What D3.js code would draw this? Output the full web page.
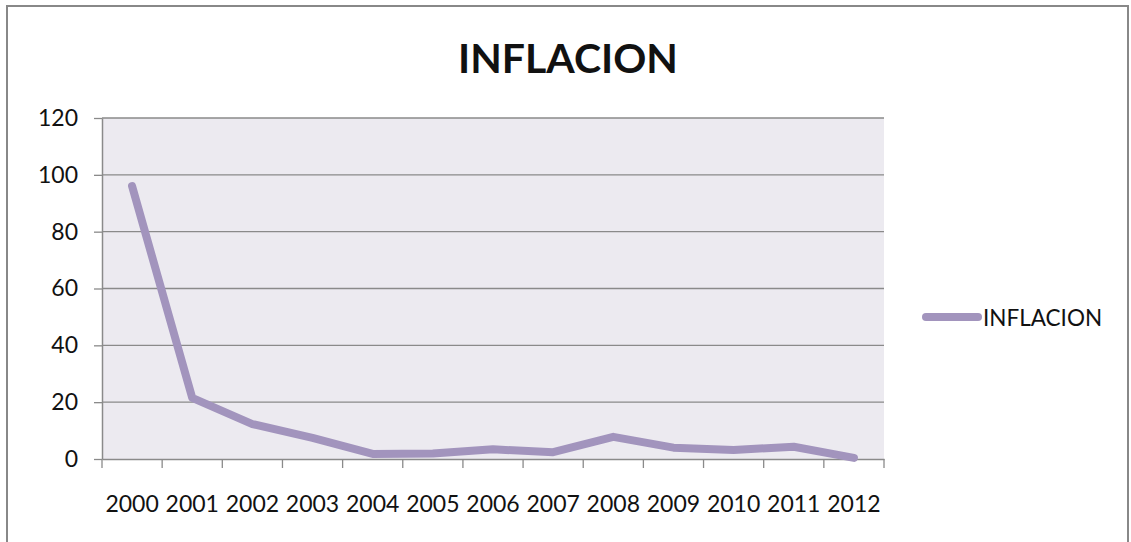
<!DOCTYPE html>
<html>
  <head>
  <title>INFLACION</title>
  <script src="https://d3js.org/d3.v7.min.js"></script>
  </head>
  <body>
    <svg id="svg" width="1131" height="542"></svg>
  </body>
</html>

<script>
  const years = ['2000','2001','2002','2003','2004','2005','2006','2007','2008','2009','2010','2011','2012'];
  const inflacion = [96, 21.5, 12.3, 7.4, 1.8, 1.9, 3.4, 2.4, 7.8, 4.0, 3.2, 4.3, 0.4];
  const yTicks = [0, 20, 40, 60, 80, 100, 120];
  const seriesName = 'INFLACION';
  const title = 'INFLACION';

  const lineColor = '#a294bd';
  const gridColor = '#8a8a8a';
  const font = 'Lato, "Open Sans", sans-serif';

  const svg = d3.select('#svg');
  const plot = {left: 102, right: 884, top: 118, bottom: 459};

  const x = d3.scaleBand().domain(years).range([plot.left, plot.right]);
  const y = d3.scaleLinear().domain([0, 120]).range([plot.bottom, plot.top]);

  svg.append('rect')
    .attr('width', 1131).attr('height', 542)
    .style('fill', '#fff');

  // outer frame
  svg.append('rect')
    .attr('x', 7).attr('y', 6)
    .attr('width', 1121).attr('height', 560)
    .style('fill', 'none')
    .style('stroke', '#888')
    .style('stroke-width', 2);

  // plot background
  svg.append('rect')
    .attr('x', plot.left).attr('y', plot.top)
    .attr('width', plot.right - plot.left).attr('height', plot.bottom - plot.top)
    .style('fill', '#eceaf0');

  // gridlines
  svg.append('g').selectAll('line')
    .data(yTicks.filter(d => d > 0))
    .join('line')
    .attr('x1', plot.left).attr('x2', plot.right)
    .attr('y1', d => y(d)).attr('y2', d => y(d))
    .style('stroke', gridColor)
    .style('stroke-width', 1.3);

  // y axis
  const yAxis = svg.append('g')
    .attr('transform', `translate(${plot.left},0)`)
    .call(d3.axisLeft(y).tickValues(yTicks).tickSize(8).tickPadding(16).tickSizeOuter(0));
  yAxis.select('.domain').style('stroke', gridColor).style('stroke-width', 1.5);
  yAxis.selectAll('.tick line').style('stroke', gridColor).style('stroke-width', 1.3);
  yAxis.selectAll('.tick text')
    .style('font-family', font).style('font-size', '23px').style('fill', '#111');

  // x axis (labels centred in bands, ticks at band edges)
  const xAxis = svg.append('g')
    .attr('transform', `translate(0,${plot.bottom})`)
    .call(d3.axisBottom(x).tickSize(0).tickPadding(37));
  xAxis.select('.domain').style('stroke', gridColor).style('stroke-width', 1.5);
  xAxis.selectAll('.tick text')
    .style('font-family', font).style('font-size', '23px').style('fill', '#111');
  xAxis.selectAll('.edge')
    .data(years.map(d => x(d)).concat([plot.right]))
    .join('line')
    .attr('class', 'edge')
    .attr('x1', d => d).attr('x2', d => d)
    .attr('y1', 0).attr('y2', 9)
    .style('stroke', gridColor)
    .style('stroke-width', 1.3);

  // series
  const line = d3.line()
    .x((d, i) => x(years[i]) + x.bandwidth() / 2)
    .y(d => y(d));

  svg.append('path')
    .datum(inflacion)
    .attr('d', line)
    .style('fill', 'none')
    .style('stroke', lineColor)
    .style('stroke-width', 8)
    .style('stroke-linejoin', 'round')
    .style('stroke-linecap', 'round');

  // title
  svg.append('text')
    .attr('x', 568).attr('y', 73)
    .style('text-anchor', 'middle')
    .style('font-family', font)
    .style('font-weight', 'bold')
    .style('font-size', '41px')
    .style('fill', '#111')
    .text(title);

  // legend
  svg.append('line')
    .attr('x1', 926).attr('x2', 978)
    .attr('y1', 317).attr('y2', 317)
    .style('stroke', lineColor)
    .style('stroke-width', 8)
    .style('stroke-linecap', 'round');
  svg.append('text')
    .attr('x', 983).attr('y', 326)
    .style('font-family', font)
    .style('font-size', '22.5px')
    .style('fill', '#111')
    .text(seriesName);
</script>

<style>
  html, body {
    margin: 0;
    padding: 0;
    overflow: hidden;
  }
  svg {
    display: block;
  }
</style>
